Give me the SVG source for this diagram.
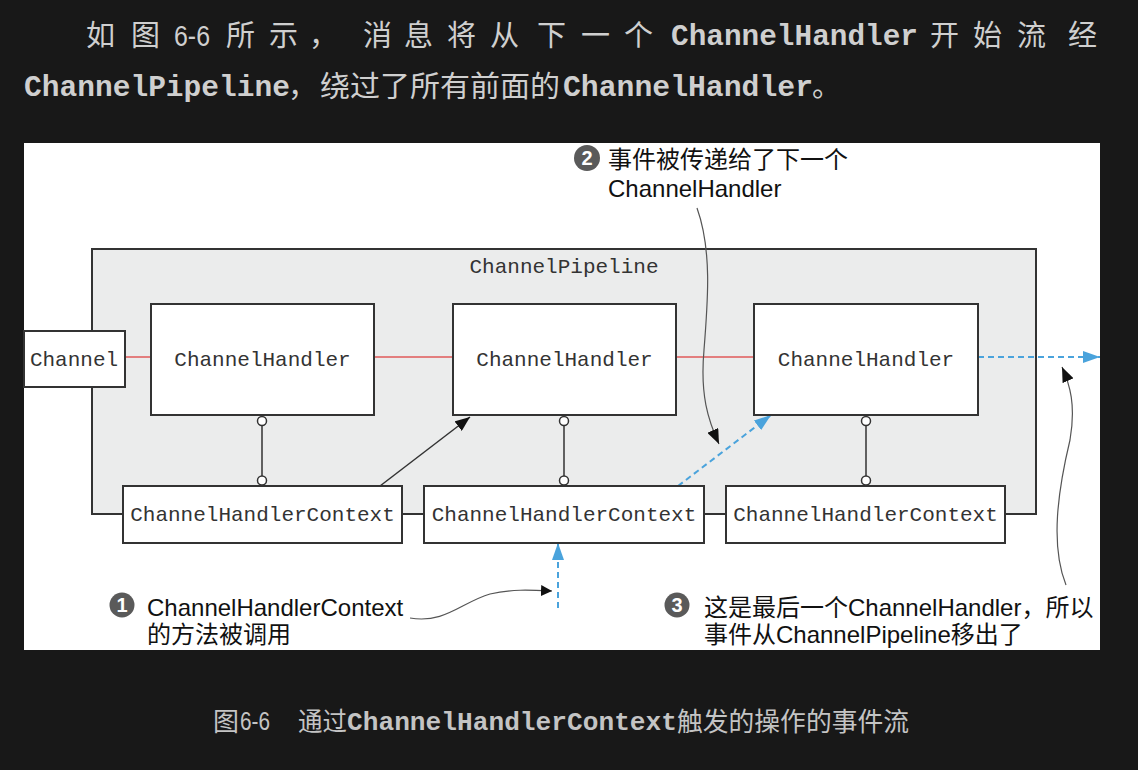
<svg xmlns="http://www.w3.org/2000/svg" width="1138" height="770" viewBox="0 0 1138 770">
<defs>
<style>
.bgtxt{fill:#cfcfcf;font-family:"Noto Sans CJK SC",sans-serif;font-size:29px}
.bgmono{fill:#cfcfcf;font-family:"Liberation Mono",monospace;font-weight:bold;font-size:29px}
.cap{fill:#c4c4c4;font-family:"Noto Sans CJK SC",sans-serif;font-size:26px}
.capmono{fill:#c4c4c4;font-family:"Liberation Mono",monospace;font-weight:bold;font-size:26px}
.box{fill:#ffffff;stroke:#333333;stroke-width:2}
.pipe{fill:#ebecec;stroke:#333333;stroke-width:2}
.mono{fill:#333333;font-family:"Liberation Mono",monospace;font-size:21px;text-anchor:middle}
.ann{fill:#111111;font-family:"Liberation Sans","Noto Sans CJK SC",sans-serif;font-size:24px}
.num{fill:#5a5a5a}
.numt{fill:#ffffff;font-family:"Liberation Sans",sans-serif;font-size:20px;font-weight:bold;text-anchor:middle}
.red{stroke:#e05a5a;stroke-width:1.5;fill:none}
.link{stroke:#333333;stroke-width:1.5;fill:none}
.dot{fill:#ffffff;stroke:#333333;stroke-width:1.5}
.blue{stroke:#4aa3dc;stroke-width:2;stroke-dasharray:6 4;fill:none}
.curve{stroke:#555555;stroke-width:1.2;fill:none}
</style>
<marker id="ah" markerUnits="userSpaceOnUse" markerWidth="16" markerHeight="12" refX="15" refY="6" orient="auto">
<path d="M0,0 L15,6 L0,12 z" fill="#111111"/>
</marker>
<marker id="ahs" markerUnits="userSpaceOnUse" markerWidth="12" markerHeight="11" refX="11" refY="5.5" orient="auto">
<path d="M0,0 L11,5.5 L0,11 z" fill="#111111"/>
</marker>
<marker id="ab" markerUnits="userSpaceOnUse" markerWidth="18" markerHeight="12" refX="17" refY="6" orient="auto">
<path d="M0,0 L17,6 L0,12 z" fill="#4aa3dc"/>
</marker>
</defs>
<rect x="0" y="0" width="1138" height="770" fill="#181818"/>

<g id="paragraph">
<text class="bgtxt" x="86" y="46">如</text>
<text class="bgtxt" x="131" y="46">图</text>
<text x="174" y="46" fill="#cfcfcf" font-family="Liberation Sans, sans-serif" font-size="29" textLength="36" lengthAdjust="spacingAndGlyphs">6-6</text>
<text class="bgtxt" x="226" y="46">所</text>
<text class="bgtxt" x="269" y="46">示</text>
<text class="bgtxt" x="309" y="46">，</text>
<text class="bgtxt" x="363" y="46">消</text>
<text class="bgtxt" x="404" y="46">息</text>
<text class="bgtxt" x="447" y="46">将</text>
<text class="bgtxt" x="490" y="46">从</text>
<text class="bgtxt" x="537" y="46">下</text>
<text class="bgtxt" x="581" y="46">一</text>
<text class="bgtxt" x="624" y="46">个</text>
<text class="bgmono" x="671" y="45" textLength="247" lengthAdjust="spacingAndGlyphs">ChannelHandler</text>
<text class="bgtxt" x="930" y="46">开</text>
<text class="bgtxt" x="973" y="46">始</text>
<text class="bgtxt" x="1017" y="46">流</text>
<text class="bgtxt" x="1068" y="46">经</text>
<text class="bgmono" x="24" y="96" textLength="266" lengthAdjust="spacingAndGlyphs">ChannelPipeline</text>
<text class="bgtxt" x="288" y="97">，</text>
<text class="bgtxt" x="320" y="97" textLength="240" lengthAdjust="spacingAndGlyphs">绕过了所有前面的</text>
<text class="bgmono" x="563" y="96" textLength="250" lengthAdjust="spacingAndGlyphs">ChannelHandler</text>
<text class="bgtxt" x="812" y="97">。</text>
</g>

<rect x="24" y="143" width="1076" height="507" fill="#ffffff"/>

<g id="pipeline">
<rect class="pipe" x="92" y="249" width="944" height="265"/>
<text class="mono" x="564" y="273">ChannelPipeline</text>
</g>

<g id="connectors">
<line class="red" x1="125" y1="357" x2="151" y2="357"/>
<line class="red" x1="374" y1="357" x2="453" y2="357"/>
<line class="red" x1="676" y1="357" x2="754" y2="357"/>
<line class="link" x1="262" y1="425" x2="262" y2="476"/>
<circle class="dot" cx="262" cy="421" r="4.5"/>
<circle class="dot" cx="262" cy="480.5" r="4.5"/>
<line class="link" x1="564" y1="425" x2="564" y2="476"/>
<circle class="dot" cx="564" cy="421" r="4.5"/>
<circle class="dot" cx="564" cy="480.5" r="4.5"/>
<line class="link" x1="866" y1="425" x2="866" y2="476"/>
<circle class="dot" cx="866" cy="421" r="4.5"/>
<circle class="dot" cx="866" cy="480.5" r="4.5"/>
<line class="link" x1="380" y1="486" x2="470" y2="417" marker-end="url(#ah)"/>
<line class="blue" x1="678" y1="486" x2="771" y2="415" marker-end="url(#ab)"/>
<line class="blue" x1="978" y1="357" x2="1100" y2="357" marker-end="url(#ab)"/>
<line class="blue" x1="558" y1="608" x2="558" y2="543" marker-end="url(#ab)"/>
<path class="curve" d="M697,208 C712,250 708,300 704,350 C700,395 708,420 719,444" marker-end="url(#ah)"/>
<path class="curve" d="M1066,585 C1050,545 1058,490 1070,440 C1076,405 1070,385 1062,367" marker-end="url(#ah)"/>
<path class="curve" d="M410,618 C445,624 462,602 490,594 C512,589 530,590 552,591" marker-end="url(#ahs)"/>
</g>

<g id="channel">
<rect class="box" x="24" y="331" width="101" height="56"/>
<text class="mono" x="74" y="366">Channel</text>
</g>
<g id="handler1">
<rect class="box" x="151" y="304" width="223" height="111"/>
<text class="mono" x="262.5" y="366">ChannelHandler</text>
</g>
<g id="handler2">
<rect class="box" x="453" y="304" width="223" height="111"/>
<text class="mono" x="564.5" y="366">ChannelHandler</text>
</g>
<g id="handler3">
<rect class="box" x="754" y="304" width="224" height="111"/>
<text class="mono" x="866" y="366">ChannelHandler</text>
</g>
<g id="context1">
<rect class="box" x="123" y="486" width="279" height="57"/>
<text class="mono" x="262.5" y="521">ChannelHandlerContext</text>
</g>
<g id="context2">
<rect class="box" x="424" y="486" width="280" height="57"/>
<text class="mono" x="564" y="521">ChannelHandlerContext</text>
</g>
<g id="context3">
<rect class="box" x="726" y="486" width="279" height="57"/>
<text class="mono" x="865.5" y="521">ChannelHandlerContext</text>
</g>

<g id="note1">
<circle class="num" cx="122" cy="605" r="12.5"/>
<text class="numt" x="122" y="612">1</text>
<text class="ann" x="147" y="616">ChannelHandlerContext</text>
<text class="ann" x="147" y="643">的方法被调用</text>
</g>
<g id="note2">
<circle class="num" cx="587" cy="158" r="13"/>
<text class="numt" x="587" y="165">2</text>
<text class="ann" x="608" y="168">事件被传递给了下一个</text>
<text class="ann" x="608" y="197">ChannelHandler</text>
</g>
<g id="note3">
<circle class="num" cx="677" cy="605" r="12.5"/>
<text class="numt" x="677" y="612">3</text>
<text class="ann" x="704" y="616">这是最后一个ChannelHandler，所以</text>
<text class="ann" x="704" y="643">事件从ChannelPipeline移出了</text>
</g>

<g id="caption">
<text class="cap" x="213" y="731">图</text>
<text x="240" y="730" fill="#c4c4c4" font-family="Liberation Sans, sans-serif" font-size="26" textLength="30" lengthAdjust="spacingAndGlyphs">6-6</text>
<text class="cap" x="298" y="731" textLength="49" lengthAdjust="spacingAndGlyphs">通过</text>
<text class="capmono" x="347" y="730" textLength="330" lengthAdjust="spacingAndGlyphs">ChannelHandlerContext</text>
<text class="cap" x="677" y="731" textLength="232" lengthAdjust="spacingAndGlyphs">触发的操作的事件流</text>
</g>
</svg>
